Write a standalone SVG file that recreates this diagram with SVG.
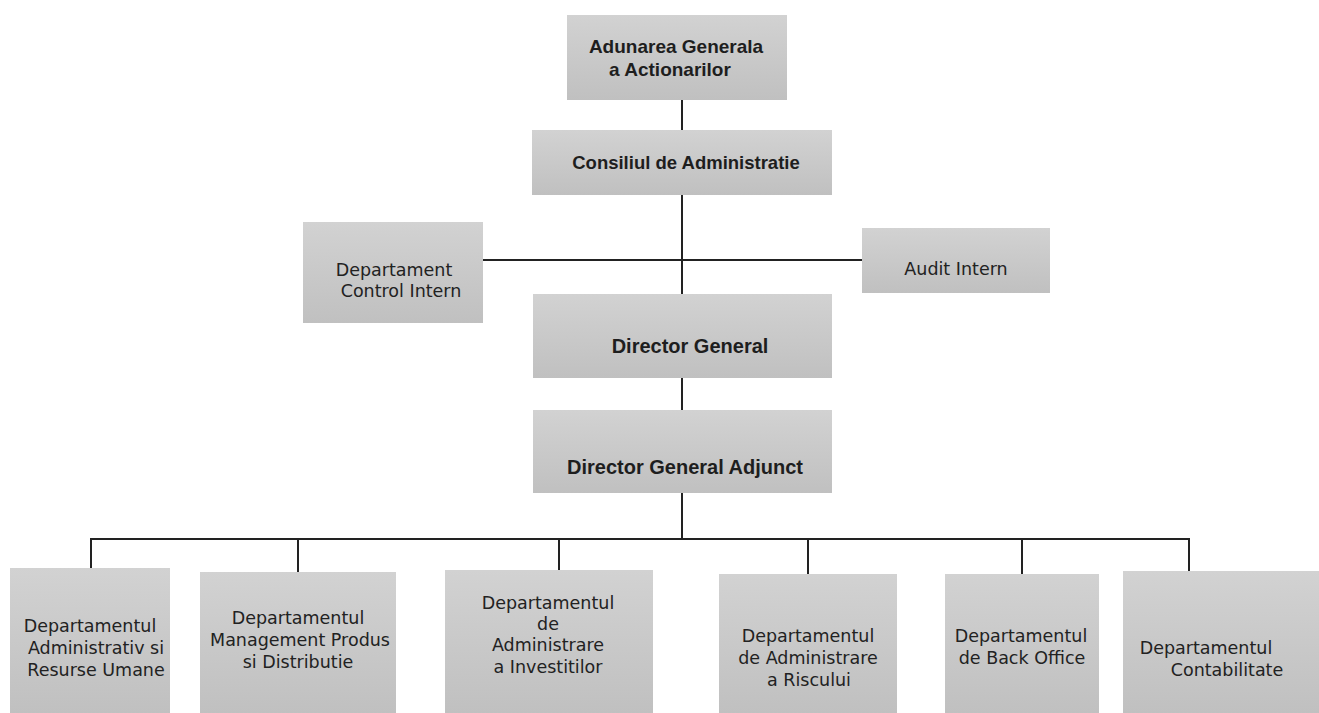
<svg xmlns="http://www.w3.org/2000/svg" width="1319" height="713" viewBox="0 0 1319 713">
<defs>
<linearGradient id="g" x1="0" y1="0" x2="0" y2="1">
<stop offset="0" stop-color="#d2d2d2"/>
<stop offset="1" stop-color="#c0c0c0"/>
</linearGradient>
<style>
.box{fill:url(#g);}
.b{font-family:"Liberation Sans",Arial,sans-serif;font-weight:bold;fill:#1e1e1e;text-anchor:middle;}
.r{font-family:"DejaVu Sans","Liberation Sans",sans-serif;font-size:17.5px;fill:#222;text-anchor:middle;}
.ln{stroke:#222;stroke-width:2;fill:none;}
</style>
</defs>
<rect width="1319" height="713" fill="#ffffff"/>
<g id="connectors">
<line class="ln" x1="682" y1="100" x2="682" y2="130"/>
<line class="ln" x1="682" y1="195" x2="682" y2="294"/>
<line class="ln" x1="483" y1="260" x2="862" y2="260"/>
<line class="ln" x1="682" y1="378" x2="682" y2="410"/>
<line class="ln" x1="682" y1="493" x2="682" y2="539"/>
<line class="ln" x1="90" y1="539" x2="1190" y2="539"/>
<line class="ln" x1="91" y1="538" x2="91" y2="568"/>
<line class="ln" x1="298" y1="538" x2="298" y2="572"/>
<line class="ln" x1="559" y1="538" x2="559" y2="570"/>
<line class="ln" x1="808" y1="538" x2="808" y2="574"/>
<line class="ln" x1="1022" y1="538" x2="1022" y2="574"/>
<line class="ln" x1="1189" y1="538" x2="1189" y2="571"/>
</g>
<g id="n-adunarea">
<rect class="box" x="567" y="15" width="220" height="85"/>
<text class="b" font-size="19" x="676" y="53">Adunarea Generala</text>
<text class="b" font-size="19" x="670" y="76">a Actionarilor</text>
</g>
<g id="n-consiliul">
<rect class="box" x="532" y="130" width="300" height="65"/>
<text class="b" font-size="18.5" x="686" y="169">Consiliul de Administratie</text>
</g>
<g id="n-control">
<rect class="box" x="303" y="222" width="180" height="101"/>
<text class="r" x="394" y="276">Departament</text>
<text class="r" x="401" y="297">Control Intern</text>
</g>
<g id="n-audit">
<rect class="box" x="862" y="228" width="188" height="65"/>
<text class="r" x="956" y="275">Audit Intern</text>
</g>
<g id="n-dg">
<rect class="box" x="533" y="294" width="299" height="84"/>
<text class="b" font-size="20" x="690" y="353">Director General</text>
</g>
<g id="n-dga">
<rect class="box" x="533" y="410" width="299" height="83"/>
<text class="b" font-size="20" x="685" y="474">Director General Adjunct</text>
</g>
<g id="n-d1">
<rect class="box" x="10" y="568" width="160" height="145"/>
<text class="r" x="90" y="632">Departamentul</text>
<text class="r" x="96" y="654">Administrativ si</text>
<text class="r" x="96" y="676">Resurse Umane</text>
</g>
<g id="n-d2">
<rect class="box" x="200" y="572" width="196" height="141"/>
<text class="r" x="298" y="624">Departamentul</text>
<text class="r" x="300" y="646">Management Produs</text>
<text class="r" x="298" y="668">si Distributie</text>
</g>
<g id="n-d3">
<rect class="box" x="445" y="570" width="208" height="143"/>
<text class="r" x="548" y="609">Departamentul</text>
<text class="r" x="548" y="630">de</text>
<text class="r" x="548" y="651">Administrare</text>
<text class="r" x="548" y="673">a Investitilor</text>
</g>
<g id="n-d4">
<rect class="box" x="719" y="574" width="178" height="139"/>
<text class="r" x="808" y="642">Departamentul</text>
<text class="r" x="808" y="664">de Administrare</text>
<text class="r" x="809" y="686">a Riscului</text>
</g>
<g id="n-d5">
<rect class="box" x="945" y="574" width="154" height="139"/>
<text class="r" x="1021" y="642">Departamentul</text>
<text class="r" x="1022" y="664">de Back Office</text>
</g>
<g id="n-d6">
<rect class="box" x="1123" y="571" width="196" height="142"/>
<text class="r" x="1206" y="654">Departamentul</text>
<text class="r" x="1227" y="676">Contabilitate</text>
</g>
</svg>
